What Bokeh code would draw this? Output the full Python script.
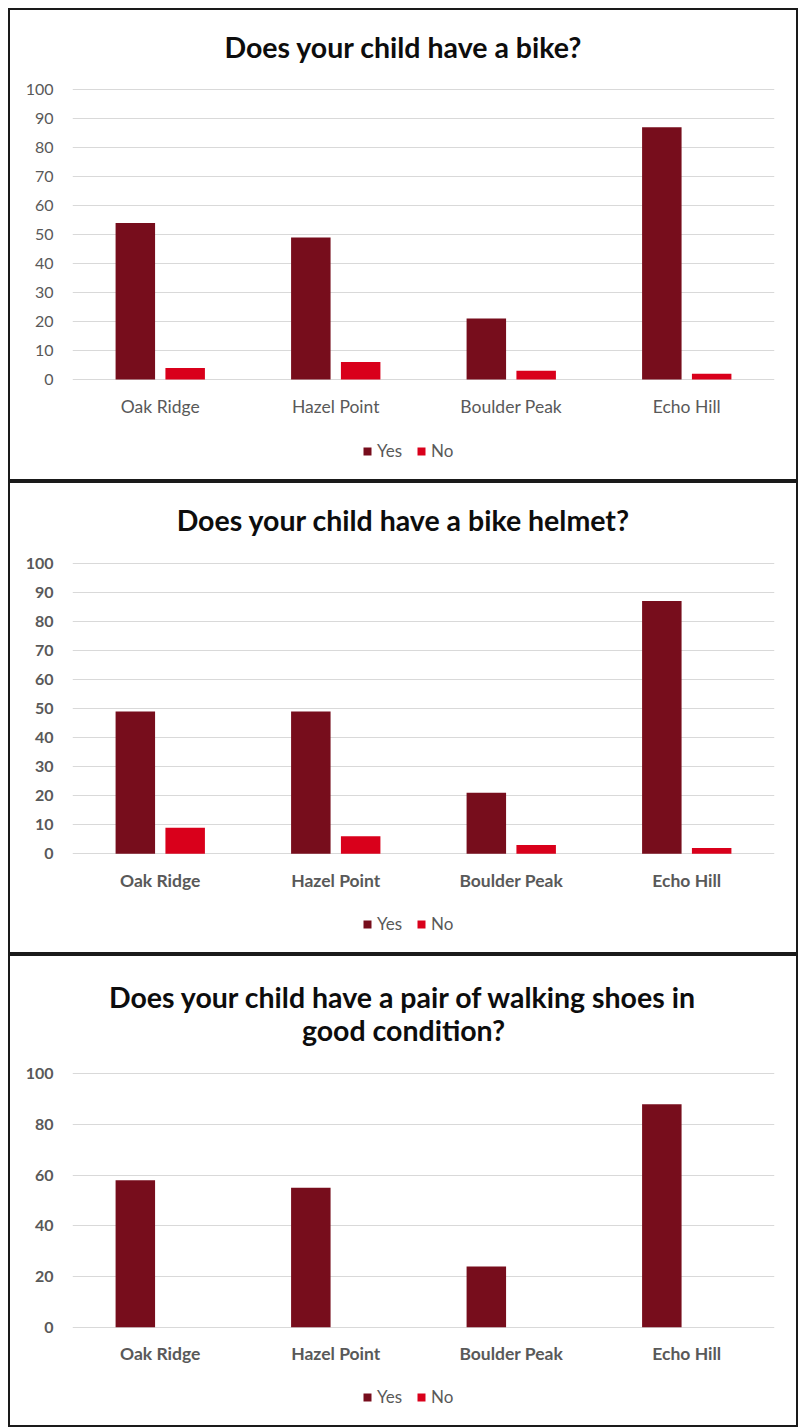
from bokeh.plotting import figure
from bokeh.models import (FactorRange, Range1d, Legend, LegendItem, Label,
                          ColumnDataSource, FixedTicker, Spacer)
from bokeh.transform import dodge
from bokeh.layouts import column, row
from bokeh.embed import file_html
from bokeh.resources import INLINE

# ---------------- data ----------------
categories = ["Oak Ridge", "Hazel Point", "Boulder Peak", "Echo Hill"]
series_names = ["Yes", "No"]

bike_yes = [54, 49, 21, 87]
bike_no = [4, 6, 3, 2]

helmet_yes = [49, 49, 21, 87]
helmet_no = [9, 6, 3, 2]

shoes_yes = [58, 55, 24, 88]
shoes_no = [0, 0, 0, 0]

title_bike = ["Does your child have a bike?"]
title_helmet = ["Does your child have a bike helmet?"]
title_shoes = ["Does your child have a pair of walking shoes in", "good condition?"]

ticks_by_10 = [0, 10, 20, 30, 40, 50, 60, 70, 80, 90, 100]
ticks_by_20 = [0, 20, 40, 60, 80, 100]

# ---------------- style ----------------
YES_COLOR = "#770D1C"
NO_COLOR = "#D9001B"
FONT = "Lato"
LABEL_COLOR = "#595959"
GRID_COLOR = "#D9D9D9"

W, H = 790, 473
LEFT, RIGHT = 64, 24
B_TOP, B_BOTTOM = 4, 4
FRAME_TOP, FRAME_BOTTOM = B_TOP, H - B_BOTTOM


def make_panel(title_lines, title_px, yes, no, ticks, bold, px100, px0):
    # pixel rows (from panel top) of value 100 and value 0 -> data range of the frame
    per_unit = (px0 - px100) / 100.0
    y_start = -(FRAME_BOTTOM - px0) / per_unit
    y_end = 100 + (px100 - FRAME_TOP) / per_unit

    p = figure(x_range=FactorRange(factors=categories, range_padding=0),
               y_range=Range1d(y_start, y_end), width=W, height=H,
               output_backend="svg", toolbar_location=None,
               min_border_left=LEFT, min_border_right=RIGHT,
               min_border_top=B_TOP, min_border_bottom=B_BOTTOM)
    p.styles = {"outline": "2.5px solid #1a1a1a", "outline-offset": "-2px"}
    p.border_fill_color = None
    src = ColumnDataSource(dict(cat=categories, yes=yes, no=no))
    r_yes = p.vbar(x=dodge("cat", -0.142, range=p.x_range), top="yes", width=0.225,
                   source=src, fill_color=YES_COLOR, line_color=None)
    r_no = p.vbar(x=dodge("cat", 0.142, range=p.x_range), top="no", width=0.225,
                  source=src, fill_color=NO_COLOR, line_color=None)

    p.outline_line_color = None
    p.xgrid.grid_line_color = None
    p.ygrid.grid_line_color = GRID_COLOR
    p.ygrid.grid_line_width = 1

    weight = "bold" if bold else "normal"
    p.yaxis.ticker = FixedTicker(ticks=ticks)
    p.xaxis.fixed_location = 0
    for ax in (p.xaxis, p.yaxis):
        ax.axis_line_color = None
        ax.major_tick_line_color = None
        ax.minor_tick_line_color = None
        ax.major_tick_out = 0
        ax.major_tick_in = 0
        ax.major_label_text_font = FONT
        ax.major_label_text_font_style = weight
        ax.major_label_text_color = LABEL_COLOR
    p.yaxis.major_label_text_font_size = "16px"
    p.xaxis.major_label_text_font_size = "17.5px"
    p.yaxis.major_label_standoff = 19
    p.xaxis.major_label_standoff = 16

    # titles, centred on the whole panel (x in category units, y from pixel row)
    x_center = (W / 2 - LEFT) / ((W - LEFT - RIGHT) / len(categories))
    for line, py in zip(title_lines, title_px):
        p.add_layout(Label(x=x_center, y=100 + (px100 - py) / per_unit, text=line,
                           text_align="center", text_baseline="middle",
                           text_font=FONT, text_font_style="bold",
                           text_font_size="28.5px", text_color="#0d0d0d"))

    legend = Legend(items=[LegendItem(label=series_names[0], renderers=[r_yes]),
                           LegendItem(label=series_names[1], renderers=[r_no])],
                    orientation="horizontal", location=(290, 16),
                    glyph_width=10, glyph_height=10, label_standoff=5, spacing=14,
                    padding=0, margin=0, border_line_color=None,
                    background_fill_alpha=0,
                    label_text_font=FONT, label_text_font_size="17px",
                    label_text_color=LABEL_COLOR)
    p.add_layout(legend)
    return p


p1 = make_panel(title_bike, [38], bike_yes, bike_no, ticks_by_10, False, 81, 371)
p2 = make_panel(title_helmet, [38], helmet_yes, helmet_no, ticks_by_10, True, 81.7, 372.3)
p3 = make_panel(title_shoes, [42, 75], shoes_yes, shoes_no, ticks_by_20, True, 119.3, 372.7)

charts = column(p1, p2, p3, spacing=0)
layout = column(Spacer(width=798, height=8),
                row(Spacer(width=8, height=3 * H), charts, spacing=0),
                spacing=0)
open("out.html", "w").write(file_html(layout, INLINE))
